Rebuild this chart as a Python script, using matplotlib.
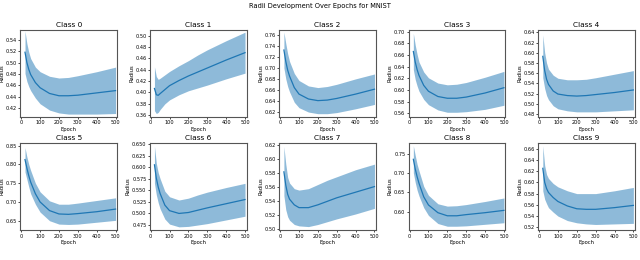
import matplotlib
matplotlib.use("Agg")
from matplotlib import pyplot as plt

epochs = [20, 30, 40, 50, 75, 100, 150, 200, 250, 300, 400, 500]

class_names = ["Class %d" % i for i in range(10)]

# mean radius per class
mean_radius = [
    [.518, .500, .488, .479, .465, .456, .446, .442, .442, .443, .447, .451],
    [.407, .396, .395, .398, .405, .412, .421, .429, .436, .443, .457, .470],
    [.733, .712, .696, .685, .664, .652, .643, .640, .641, .644, .652, .661],
    [.666, .648, .635, .625, .608, .598, .589, .586, .586, .588, .595, .604],
    [.593, .565, .548, .538, .525, .519, .516, .515, .516, .518, .522, .527],
    [.813, .790, .770, .753, .722, .700, .677, .668, .667, .669, .674, .681],
    [.605, .576, .557, .543, .518, .506, .500, .502, .507, .512, .521, .530],
    [.582, .563, .550, .543, .535, .531, .531, .535, .540, .545, .553, .561],
    [.735, .710, .690, .673, .638, .617, .597, .589, .589, .592, .597, .603],
    [.625, .600, .589, .582, .573, .566, .558, .553, .552, .552, .555, .559],
]

# upper edge of the shaded band
upper_radius = [
    [.555, .533, .518, .507, .492, .484, .476, .473, .474, .477, .484, .492],
    [.445, .428, .423, .425, .431, .437, .447, .456, .466, .475, .491, .506],
    [.766, .745, .726, .712, .690, .677, .667, .664, .666, .670, .680, .689],
    [.697, .677, .661, .648, .631, .621, .612, .609, .610, .613, .622, .632],
    [.635, .600, .580, .568, .556, .550, .547, .547, .548, .551, .558, .565],
    [.845, .820, .800, .784, .750, .727, .703, .694, .694, .697, .704, .711],
    [.645, .608, .588, .575, .548, .536, .529, .533, .540, .546, .556, .565],
    [.618, .593, .574, .566, .558, .556, .558, .564, .570, .575, .585, .593],
    [.770, .745, .722, .705, .665, .642, .620, .614, .615, .618, .626, .635],
    [.665, .630, .614, .607, .598, .592, .585, .580, .580, .580, .585, .591],
]

# lower edge of the shaded band
lower_radius = [
    [.481, .467, .458, .451, .438, .428, .417, .412, .410, .410, .410, .411],
    [.368, .363, .365, .370, .380, .387, .396, .403, .408, .413, .424, .434],
    [.700, .680, .666, .656, .637, .627, .619, .616, .616, .618, .625, .633],
    [.635, .618, .607, .598, .584, .575, .566, .562, .562, .563, .567, .574],
    [.551, .530, .516, .508, .496, .490, .486, .484, .484, .484, .486, .488],
    [.780, .760, .740, .722, .694, .673, .650, .641, .640, .641, .646, .651],
    [.565, .540, .523, .510, .488, .477, .471, .472, .475, .478, .486, .494],
    [.548, .528, .518, .513, .507, .505, .504, .507, .511, .515, .522, .530],
    [.700, .675, .655, .640, .610, .590, .569, .562, .562, .563, .567, .571],
    [.585, .570, .562, .555, .547, .540, .532, .528, .526, .525, .526, .527],
]

y_ticks = [
    [0.42, 0.44, 0.46, 0.48, 0.50, 0.52, 0.54],
    [0.36, 0.38, 0.40, 0.42, 0.44, 0.46, 0.48, 0.50],
    [0.62, 0.64, 0.66, 0.68, 0.70, 0.72, 0.74, 0.76],
    [0.56, 0.58, 0.60, 0.62, 0.64, 0.66, 0.68, 0.70],
    [0.48, 0.50, 0.52, 0.54, 0.56, 0.58, 0.60, 0.62, 0.64],
    [0.65, 0.70, 0.75, 0.80, 0.85],
    [0.475, 0.500, 0.525, 0.550, 0.575, 0.600, 0.625, 0.650],
    [0.50, 0.52, 0.54, 0.56, 0.58, 0.60, 0.62],
    [0.60, 0.65, 0.70, 0.75],
    [0.52, 0.54, 0.56, 0.58, 0.60, 0.62, 0.64, 0.66],
]
y_fmt = ["%.2f"] * 6 + ["%.3f"] + ["%.2f"] * 3

ylims = [(0.405, 0.557), (0.357, 0.510), (0.610, 0.770), (0.554, 0.703),
         (0.474, 0.645), (0.625, 0.857), (0.464, 0.652), (0.499, 0.623),
         (0.552, 0.777), (0.515, 0.670)]


def main():
    fig, axes = plt.subplots(2, 5, figsize=(6.4, 2.6), dpi=100)
    fig.subplots_adjust(left=0.032, right=0.992, top=0.885, bottom=0.115,
                        wspace=0.34, hspace=0.30)
    fig.suptitle("Radii Development Over Epochs for MNIST", fontsize=4.8, y=0.99)

    for i, ax in enumerate(axes.flat):
        ax.fill_between(epochs, lower_radius[i], upper_radius[i],
                        color="#1f77b4", alpha=0.5, linewidth=0)
        ax.plot(epochs, mean_radius[i], color="#1f77b4", linewidth=0.9)
        ax.set_title(class_names[i], fontsize=5.3, pad=2)
        ax.set_xlabel("Epoch", fontsize=3.8, labelpad=1)
        ax.set_ylabel("Radius", fontsize=3.8, labelpad=0.8)
        ax.set_xlim(-4, 508)
        ax.set_ylim(ylims[i])
        ax.set_xticks([0, 100, 200, 300, 400, 500])
        ax.set_yticks(y_ticks[i])
        ax.set_yticklabels([y_fmt[i] % v for v in y_ticks[i]])
        ax.tick_params(labelsize=3.6, length=1.5, width=0.5, pad=1)
        for sp in ax.spines.values():
            sp.set_linewidth(0.8)
            sp.set_color("#555555")

    plt.savefig("out.png", dpi=100)


if __name__ == '__main__':
    main()
